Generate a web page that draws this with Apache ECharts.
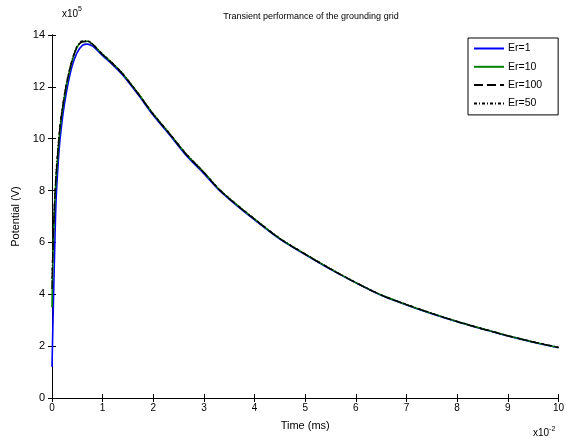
<!DOCTYPE html>
<html><head><meta charset="utf-8">
<script src="https://cdn.jsdelivr.net/npm/echarts@6/dist/echarts.min.js"></script>
<style>html,body{margin:0;padding:0;background:#fff}#c{width:567px;height:443px}</style>
</head><body><div id="c"></div>
<script>
var timeX = [0, 0.02, 0.05, 0.08, 0.12, 0.16, 0.22, 0.29, 0.39, 0.49, 0.6, 0.7, 0.8, 0.9, 1.0, 1.2, 1.4, 1.7, 2.0, 2.3, 2.65, 3.0, 3.3, 3.65, 4.0, 4.5, 5.0, 5.5, 6.0, 6.5, 7.0, 7.5, 8.0, 8.5, 9.0, 9.5, 10.0];
var er1   = [1.2, 3.0, 5.5, 7.6, 9.0, 10.0, 11.0, 11.85, 12.75, 13.3, 13.6, 13.65, 13.57, 13.4, 13.2, 12.85, 12.45, 11.7, 10.9, 10.2, 9.35, 8.65, 8.02, 7.42, 6.87, 6.13, 5.53, 4.96, 4.44, 3.96, 3.59, 3.25, 2.94, 2.66, 2.39, 2.15, 1.94];
var er10  = [3.5, 5.6, 7.3, 8.4, 9.5, 10.4, 11.3, 12.1, 12.95, 13.5, 13.75, 13.76, 13.65, 13.45, 13.25, 12.9, 12.5, 11.75, 10.95, 10.25, 9.4, 8.7, 8.05, 7.45, 6.9, 6.15, 5.55, 4.98, 4.45, 3.97, 3.6, 3.26, 2.95, 2.67, 2.4, 2.16, 1.95];
var er100 = [4.2, 5.9, 7.5, 8.6, 9.6, 10.5, 11.35, 12.15, 12.97, 13.52, 13.74, 13.75, 13.64, 13.44, 13.24, 12.88, 12.48, 11.73, 10.93, 10.23, 9.39, 8.69, 8.04, 7.44, 6.89, 6.14, 5.54, 4.97, 4.44, 3.97, 3.6, 3.26, 2.95, 2.66, 2.4, 2.16, 1.95];
var er50  = [4.6, 6.1, 7.6, 8.7, 9.7, 10.55, 11.4, 12.2, 13.0, 13.55, 13.77, 13.77, 13.66, 13.46, 13.26, 12.91, 12.5, 11.76, 10.96, 10.26, 9.42, 8.71, 8.06, 7.46, 6.91, 6.16, 5.56, 4.99, 4.46, 3.98, 3.61, 3.27, 2.96, 2.68, 2.41, 2.17, 1.96];
var xTicks = [0,1,2,3,4,5,6,7,8,9,10];
var yTicks = [0,2,4,6,8,10,12,14];
var seriesNames = ['Er=1', 'Er=10', 'Er=100', 'Er=50'];

function pairs(ys){ return timeX.map(function(x,i){ return [x, ys[i]]; }); }

var font = 'Arial, "Liberation Sans", sans-serif';
var chart = echarts.init(document.getElementById('c'), null, {renderer:'canvas'});
var axisCommon = {
  axisLine:{show:true, lineStyle:{color:'#000', width:1}},
  axisTick:{show:true, inside:true, length:4, lineStyle:{color:'#000'}},
  splitLine:{show:false}
};
chart.setOption({
  animation:false,
  backgroundColor:'#fff',
  textStyle:{fontFamily:font},
  title:{text:'Transient performance of the grounding grid', left:306, textAlign:'center', top:7,
    textStyle:{fontSize:9, fontWeight:'normal', color:'#000', fontFamily:font}},
  grid:{left:52, right:6, top:35, bottom:45, containLabel:false},
  legend:{orient:'vertical', left:468, top:38, itemWidth:30, itemHeight:8, itemGap:7.3,
    padding:[5,16,6,5], borderColor:'#000', borderWidth:1, backgroundColor:'#fff',
    itemStyle:{color:'rgba(0,0,0,0)', borderWidth:0, opacity:0},
    textStyle:{fontSize:10.5, color:'#000', fontFamily:font, padding:[0,0,0,-1]},
    data:seriesNames},
  xAxis:[
    Object.assign({type:'value', min:0, max:10, interval:1, position:'bottom',
      name:'Time (ms)', nameLocation:'middle', nameGap:22,
      nameTextStyle:{fontSize:11, color:'#000', fontFamily:font},
      axisLabel:{fontSize:10, color:'#000', margin:5, formatter:function(v){return xTicks.indexOf(v)>=0?String(v):'';}}}, axisCommon),
    Object.assign({type:'value', min:0, max:10, interval:1, position:'top', axisLabel:{show:false}}, axisCommon)
  ],
  yAxis:[
    Object.assign({type:'value', min:0, max:14, interval:2, position:'left',
      name:'Potential (V)', nameLocation:'middle', nameGap:20,
      nameTextStyle:{fontSize:11, color:'#000', fontFamily:font},
      axisLabel:{fontSize:11, color:'#000', margin:7, formatter:function(v){return yTicks.indexOf(v)>=0?String(v):'';}}}, axisCommon),
    Object.assign({type:'value', min:0, max:14, interval:2, position:'right', axisLabel:{show:false}}, axisCommon)
  ],
  graphic:[
    {type:'text', left:62, top:6, style:{text:'{a|x10}{b|5}', rich:{
      a:{fontSize:10, fill:'#000', fontFamily:font, verticalAlign:'bottom'},
      b:{fontSize:7, fill:'#000', fontFamily:font, verticalAlign:'top', padding:[0,0,6,0]}}}},
    {type:'text', left:533, top:426, style:{text:'{a|x10}{b|-2}', rich:{
      a:{fontSize:10, fill:'#000', fontFamily:font},
      b:{fontSize:7, fill:'#000', fontFamily:font, padding:[0,0,7,0]}}}}
  ],
  series:[
    {name:'Er=1', type:'line', data:pairs(er1), showSymbol:false, symbol:'none', smooth:0.3,
      lineStyle:{color:'#0000ff', width:1.6}, itemStyle:{color:'#0000ff'}},
    {name:'Er=10', type:'line', data:pairs(er10), showSymbol:false, symbol:'none', smooth:0.3,
      lineStyle:{color:'#008000', width:1.6}, itemStyle:{color:'#008000'}},
    {name:'Er=100', type:'line', data:pairs(er100), showSymbol:false, symbol:'none', smooth:0.3,
      lineStyle:{color:'#000', width:1.3, type:[9,4]}, itemStyle:{color:'#000'}},
    {name:'Er=50', type:'line', data:pairs(er50), showSymbol:false, symbol:'none', smooth:0.3,
      lineStyle:{color:'#000', width:1.3, type:[3,2,1,2]}, itemStyle:{color:'#000'}}
  ]
});
</script></body></html>
